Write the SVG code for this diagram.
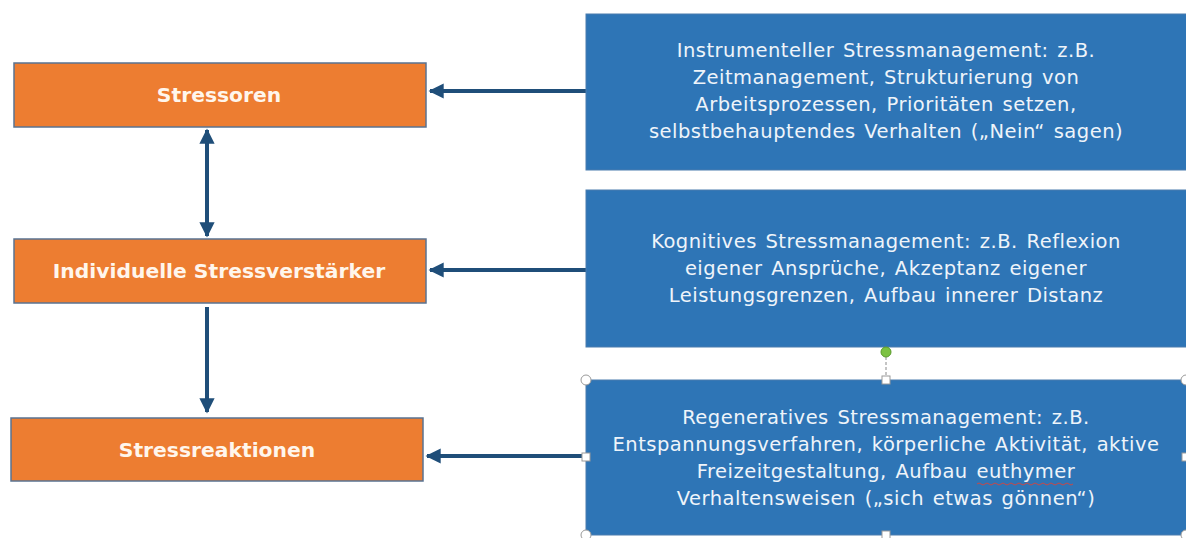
<svg xmlns="http://www.w3.org/2000/svg" width="1186" height="538" viewBox="0 0 1186 538">
<style>
.orange{fill:#ED7D31;stroke:#5A7391;stroke-width:1.5}
.blue{fill:#2E75B6;stroke:#4A7DAE;stroke-width:1}
.olbl{font-family:"DejaVu Sans",Verdana,sans-serif;font-weight:bold;font-size:20.3px;fill:#FFF6EC;text-anchor:middle}
.blbl{font-family:"DejaVu Sans",Verdana,sans-serif;font-size:19.5px;letter-spacing:0.5px;word-spacing:2px;fill:#EEF4FA;text-anchor:middle}
.conn{stroke:#1F4E79;stroke-width:4;fill:none}
.hc{fill:#FFFFFF;stroke:#9A9A9A;stroke-width:1}
</style>
<defs>
<marker id="ah" viewBox="0 0 10 10" refX="9" refY="5" markerWidth="3.8" markerHeight="3.8" orient="auto-start-reverse" markerUnits="strokeWidth">
<path d="M0,0 L10,5 L0,10 z" fill="#1F4E79"/>
</marker>
</defs>
<rect width="1186" height="538" fill="#FFFFFF"/>
<g id="connectors">
<line class="conn" x1="586" y1="91" x2="430" y2="91" marker-end="url(#ah)"/>
<line class="conn" x1="586" y1="270" x2="430" y2="270" marker-end="url(#ah)"/>
<line class="conn" x1="586" y1="456" x2="427" y2="456" marker-end="url(#ah)"/>
<line class="conn" x1="207" y1="130" x2="207" y2="236" marker-start="url(#ah)" marker-end="url(#ah)"/>
<line class="conn" x1="207" y1="307" x2="207" y2="412" marker-end="url(#ah)"/>
</g>
<g id="node-stressoren">
<rect class="orange" x="14" y="63" width="412" height="64"/>
<text class="olbl" x="219" y="102">Stressoren</text>
</g>
<g id="node-verstaerker">
<rect class="orange" x="14" y="239" width="412" height="64"/>
<text class="olbl" x="219" y="278">Individuelle Stressverstärker</text>
</g>
<g id="node-reaktionen">
<rect class="orange" x="11" y="418" width="412" height="63"/>
<text class="olbl" x="217" y="457">Stressreaktionen</text>
</g>
<g id="node-instrumentell">
<rect class="blue" x="586" y="14" width="606" height="156"/>
<text class="blbl" x="886" y="57">Instrumenteller Stressmanagement: z.B.</text>
<text class="blbl" x="886" y="84">Zeitmanagement, Strukturierung von</text>
<text class="blbl" x="886" y="111">Arbeitsprozessen, Prioritäten setzen,</text>
<text class="blbl" x="886" y="138">selbstbehauptendes Verhalten („Nein“ sagen)</text>
</g>
<g id="node-kognitiv">
<rect class="blue" x="586" y="190" width="606" height="157"/>
<text class="blbl" x="886" y="248">Kognitives Stressmanagement: z.B. Reflexion</text>
<text class="blbl" x="886" y="275">eigener Ansprüche, Akzeptanz eigener</text>
<text class="blbl" x="886" y="302">Leistungsgrenzen, Aufbau innerer Distanz</text>
</g>
<g id="node-regenerativ">
<rect class="blue" x="586" y="380" width="606" height="155"/>
<text class="blbl" x="886" y="424">Regeneratives Stressmanagement: z.B.</text>
<text class="blbl" x="886" y="451">Entspannungsverfahren, körperliche Aktivität, aktive</text>
<text class="blbl" x="886" y="478">Freizeitgestaltung, Aufbau euthymer</text>
<path d="M 977 484 q 2 -2 4 0 t 4 0 t 4 0 t 4 0 t 4 0 t 4 0 t 4 0 t 4 0 t 4 0 t 4 0 t 4 0 t 4 0 t 4 0 t 4 0 t 4 0 t 4 0 t 4 0 t 4 0 t 4 0 t 4 0 t 4 0 t 4 0 t 4 0 t 4 0" fill="none" stroke="#C84848" stroke-width="1"/>
<text class="blbl" x="886" y="505">Verhaltensweisen („sich etwas gönnen“)</text>
</g>
<g id="selection-handles">
<line x1="886" y1="357" x2="886" y2="377" stroke="#8A8A8A" stroke-width="1" stroke-dasharray="3,2"/>
<circle cx="886" cy="352" r="5" fill="#7CC242" stroke="#5A9A2A" stroke-width="1"/>
<circle class="hc" cx="586" cy="380" r="5"/>
<circle class="hc" cx="1186" cy="380" r="5"/>
<circle class="hc" cx="586" cy="535" r="5"/>
<circle class="hc" cx="1186" cy="535" r="5"/>
<rect class="hc" x="882" y="376" width="8" height="8"/>
<rect class="hc" x="582" y="453" width="8" height="8"/>
<rect class="hc" x="1182" y="453" width="8" height="8"/>
<rect class="hc" x="882" y="531" width="8" height="8"/>
</g>
</svg>
